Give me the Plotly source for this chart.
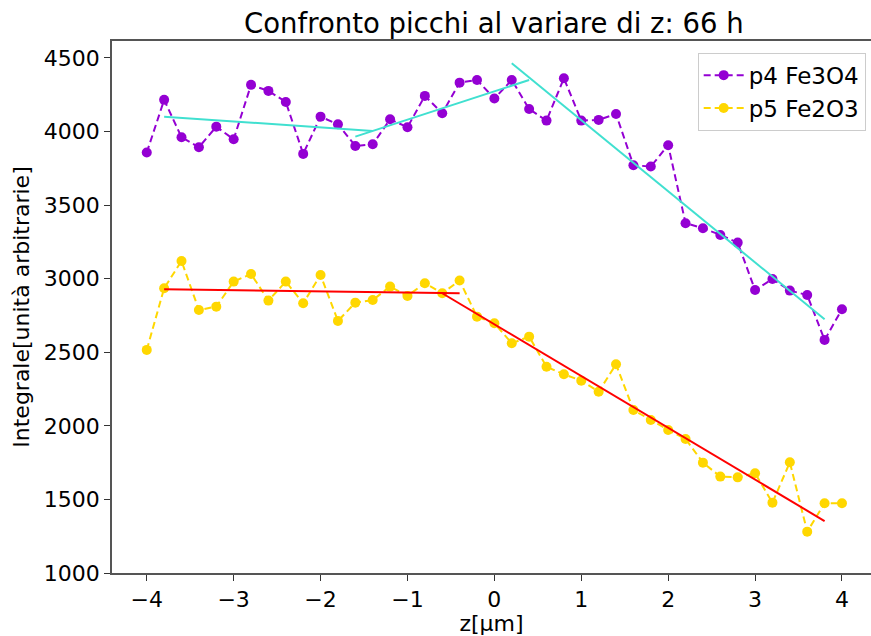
import plotly.graph_objects as go

# ---- data ----
z = [-4.0, -3.8, -3.6, -3.4, -3.2, -3.0, -2.8, -2.6, -2.4, -2.2, -2.0,
     -1.8, -1.6, -1.4, -1.2, -1.0, -0.8, -0.6, -0.4, -0.2, 0.0,
     0.2, 0.4, 0.6, 0.8, 1.0, 1.2, 1.4, 1.6, 1.8, 2.0,
     2.2, 2.4, 2.6, 2.8, 3.0, 3.2, 3.4, 3.6, 3.8, 4.0]

p4_fe3o4 = [3857, 4215, 3961, 3893, 4033, 3947, 4317, 4276, 4201, 3848, 4101,
            4049, 3902, 3913, 4083, 4029, 4242, 4124, 4332, 4350, 4224,
            4350, 4153, 4074, 4362, 4074, 4079, 4119, 3771, 3762, 3907,
            3377, 3343, 3297, 3245, 2923, 2998, 2919, 2889, 2584, 2792]

p5_fe2o3 = [2516, 2935, 3120, 2787, 2810, 2980, 3032, 2851, 2980, 2833, 3025,
            2713, 2837, 2855, 2946, 2883, 2969, 2901, 2987, 2742, 2697,
            2561, 2606, 2402, 2350, 2307, 2232, 2418, 2108, 2040, 1972,
            1911, 1750, 1655, 1650, 1678, 1478, 1752, 1281, 1474, 1474]

# linear fit segments (endpoints)
fit_p4_x = [[-3.8, -1.4], [-1.6, 0.4], [0.2, 3.8]]
fit_p4_y = [[4101, 4004], [3965, 4350], [4464, 2724]]
fit_p5_x = [[-3.8, -0.4], [-0.6, 3.8]]
fit_p5_y = [[2928, 2901], [2901, 1353]]

labels = ["p4 Fe3O4", "p5 Fe2O3"]
title = "Confronto picchi al variare di z: 66 h"

FONT = "DejaVu Sans"
PURPLE = "#9400D3"
GOLD = "#FFD700"
CYAN = "#40E0D0"
RED = "#FF0000"

fig = go.Figure()

fig.add_trace(go.Scatter(x=z, y=p4_fe3o4, mode="lines+markers", name=labels[0],
                         line=dict(color=PURPLE, width=2, dash="7px,4px"),
                         marker=dict(color=PURPLE, size=10)))
for xs, ys in zip(fit_p4_x, fit_p4_y):
    fig.add_trace(go.Scatter(x=xs, y=ys, mode="lines", showlegend=False,
                             line=dict(color=CYAN, width=2), hoverinfo="skip"))

fig.add_trace(go.Scatter(x=z, y=p5_fe2o3, mode="lines+markers", name=labels[1],
                         line=dict(color=GOLD, width=2, dash="7px,4px"),
                         marker=dict(color=GOLD, size=10)))
for xs, ys in zip(fit_p5_x, fit_p5_y):
    fig.add_trace(go.Scatter(x=xs, y=ys, mode="lines", showlegend=False,
                             line=dict(color=RED, width=2), hoverinfo="skip"))

fig.update_layout(
    template="none",
    width=871, height=636,
    margin=dict(l=112, r=0, t=41, b=63),
    paper_bgcolor="white", plot_bgcolor="white",
    font=dict(family=FONT, size=22, color="black"),
    title=dict(text=title, x=0.567, xanchor="center", y=0.964, yanchor="middle",
               yref="container", font=dict(family=FONT, size=27.5, color="black")),
    showlegend=True,
    legend=dict(x=0.993, xanchor="right", y=0.978, yanchor="top",
                bgcolor="rgba(255,255,255,0.8)", bordercolor="#cccccc", borderwidth=1,
                font=dict(family=FONT, size=23, color="black"),
                itemwidth=40, tracegroupgap=0),
)

fig.update_xaxes(range=[-4.4, 4.334], tickmode="array",
                 tickvals=[-4, -3, -2, -1, 0, 1, 2, 3, 4],
                 ticktext=["\u22124", "\u22123", "\u22122", "\u22121", "0", "1", "2", "3", "4"],
                 ticks="outside", ticklen=6, tickwidth=1, tickcolor="#333333",
                 showline=True, linecolor="#555555", linewidth=1.5, mirror=True,
                 showgrid=False, zeroline=False, automargin=False,
                 title=dict(text="z[\u03bcm]", standoff=4, font=dict(size=22)))

fig.update_yaxes(range=[1000, 4615], tickmode="array",
                 tickvals=[1000, 1500, 2000, 2500, 3000, 3500, 4000, 4500],
                 ticks="outside", ticklen=6, tickwidth=1, tickcolor="#333333",
                 showline=True, linecolor="#555555", linewidth=1.5, mirror=False,
                 showgrid=False, zeroline=False, automargin=False,
                 title=dict(text="Integrale[unità arbitrarie]", standoff=8, font=dict(size=22)))

fig.write_html("out.html")
